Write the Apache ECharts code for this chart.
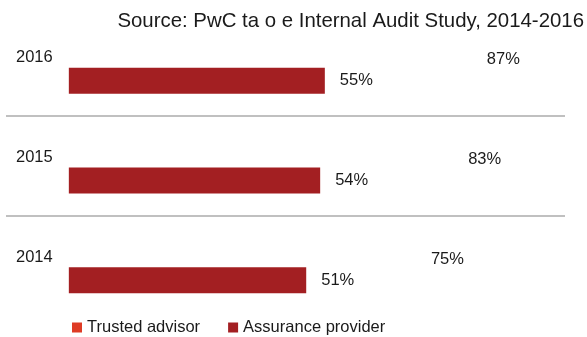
<!DOCTYPE html>
<html>
<head>
<meta charset="utf-8">
<script src="https://cdn.jsdelivr.net/npm/echarts@6/dist/echarts.min.js"></script>
<style>
html,body{margin:0;padding:0;background:#fff;}
#chart{width:587px;height:337px;}
</style>
</head>
<body>
<div id="chart"></div>
<script>
var titleText = 'Source: PwC ta o e Internal Audit Study, 2014-2016';
var years = ['2016', '2015', '2014'];
var seriesNames = ['Trusted advisor', 'Assurance provider'];
var trustedAdvisor = [87, 83, 75];
var assuranceProvider = [55, 54, 51];
var colors = ['#DE3B25', '#A31F22'];

var font = '"Liberation Sans", Arial, sans-serif';
var textColor = '#1a1a1a';

var chart = echarts.init(document.getElementById('chart'), null, {renderer: 'canvas'});
chart.setOption({
  animation: false,
  backgroundColor: '#ffffff',
  title: {
    text: titleText,
    right: 1,
    top: 6,
    padding: [5, 2, 5, 5],
    textStyle: {fontFamily: font, fontSize: 20.4, fontWeight: 'normal', color: textColor}
  },
  legend: {
    left: 72,
    top: 319,
    padding: 0,
    itemWidth: 10,
    itemHeight: 10,
    itemGap: 28,
    icon: 'rect',
    textStyle: {fontFamily: font, fontSize: 16.5, color: textColor},
    data: [
      {name: seriesNames[0], itemStyle: {color: colors[0], opacity: 1}},
      {name: seriesNames[1], itemStyle: {color: colors[1], opacity: 1}}
    ]
  },
  grid: {left: 6, right: 22, top: 16, bottom: 21.5, containLabel: false},
  xAxis: {
    type: 'value',
    min: -13.5,
    max: 106.6,
    show: false,
    splitLine: {show: false}
  },
  yAxis: {
    type: 'category',
    data: years,
    inverse: true,
    axisLine: {show: false},
    axisTick: {show: false},
    axisLabel: {
      inside: true,
      margin: 10,
      fontFamily: font,
      fontSize: 16.5,
      color: textColor,
      verticalAlign: 'bottom'
    },
    splitLine: {
      show: true,
      showMinLine: false,
      showMaxLine: false,
      lineStyle: {color: '#ababab', width: 1.5}
    }
  },
  series: [
    {
      name: seriesNames[0],
      type: 'bar',
      data: trustedAdvisor,
      barWidth: 43,
      barGap: '-31.5%',
      itemStyle: {color: 'rgba(0,0,0,0)'},
      label: {
        show: true,
        position: 'right',
        distance: 13,
        formatter: '{c}%',
        fontFamily: font,
        fontSize: 16.5,
        color: textColor
      }
    },
    {
      name: seriesNames[1],
      type: 'bar',
      data: assuranceProvider,
      barWidth: 26,
      barGap: '-31.5%',
      itemStyle: {color: colors[1]},
      label: {
        show: true,
        position: 'right',
        distance: 15,
        formatter: '{c}%',
        fontFamily: font,
        fontSize: 16.5,
        color: textColor
      }
    }
  ]
});
</script>
</body>
</html>
